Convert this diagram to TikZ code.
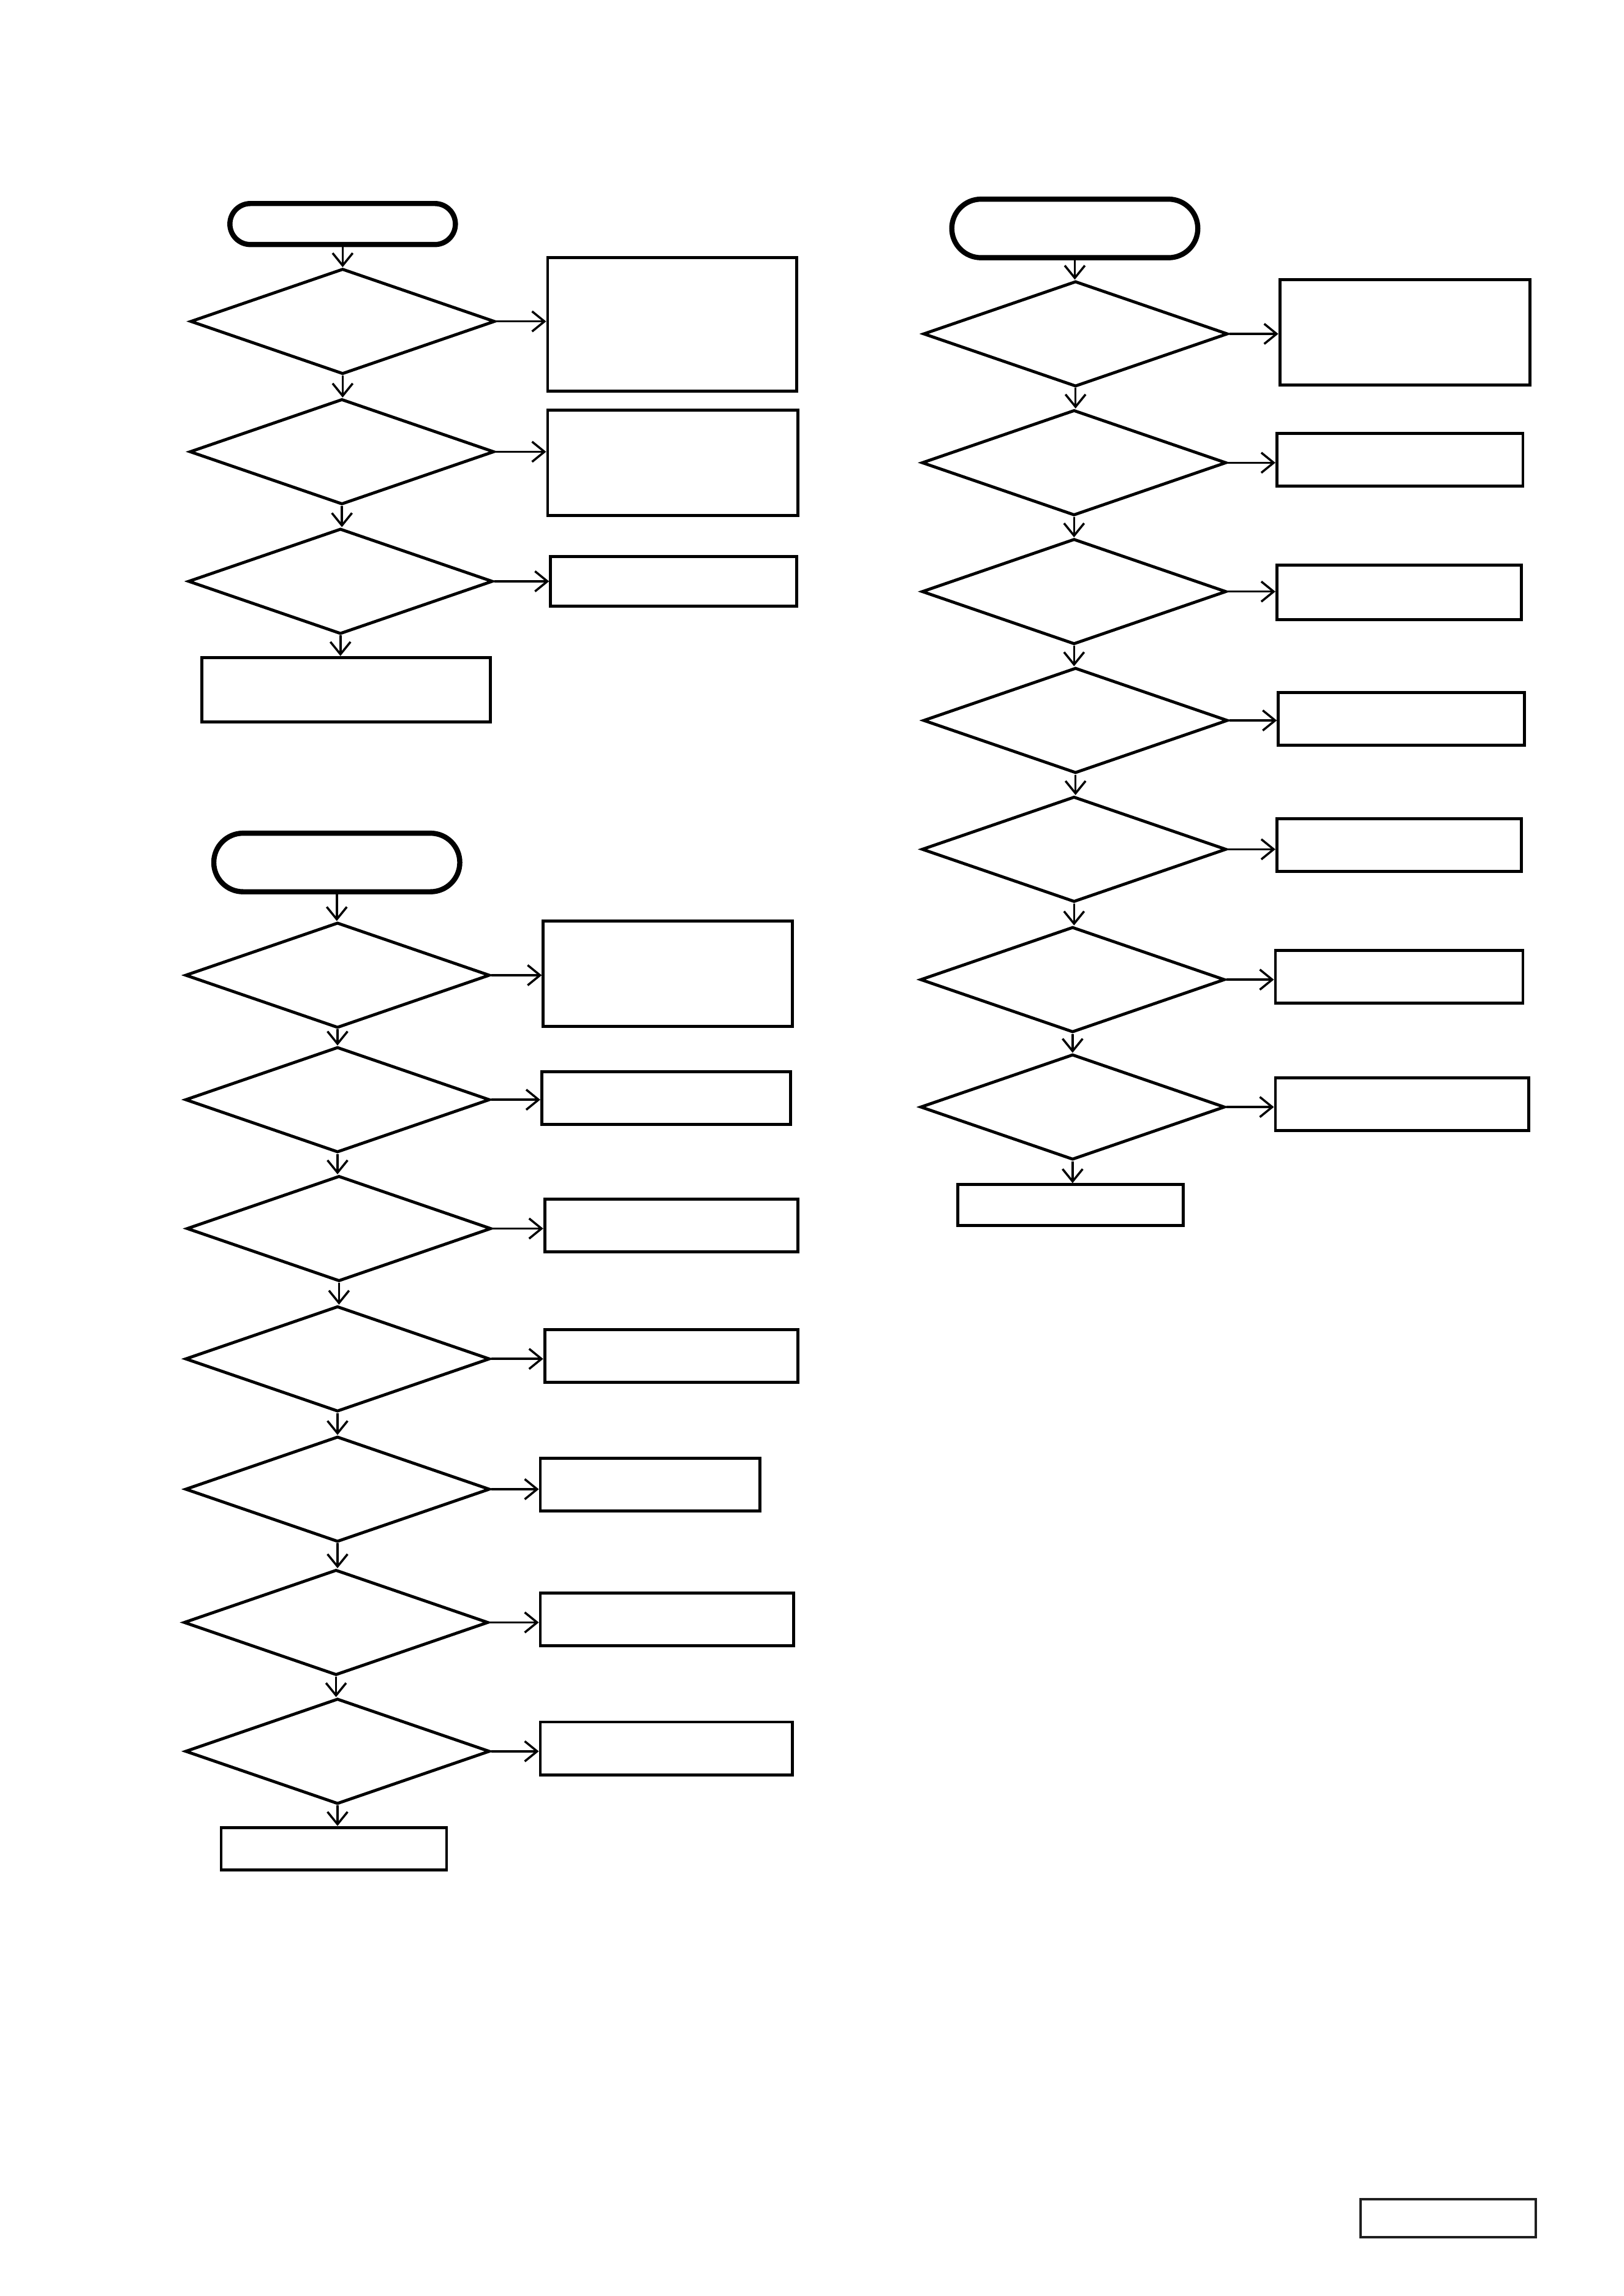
\documentclass[tikz,border=0pt]{standalone}
\usepackage{tikz}
\usetikzlibrary{shapes.geometric, shapes.misc, arrows.meta}
\newcommand{\unitpx}{0.018936cm}

\begin{document}
\begin{tikzpicture}[
		x=\unitpx, y=-\unitpx,
		terminal/.style={rounded rectangle, draw, line width=1.9pt, inner sep=0pt},
		decision/.style={diamond, draw, line width=1.1pt, inner sep=0pt, minimum width=208*\unitpx, minimum height=72*\unitpx},
		process/.style={rectangle, draw, line width=1.1pt, inner sep=0pt},
		flow/.style={-{Straight Barb[length=1.6mm, width=2.6mm]}, line width=0.8pt}
		]
		\useasboundingbox (0,0) rectangle (1109,1568);
		% Top left chart
		\node[terminal, minimum width=154*\unitpx, minimum height=28*\unitpx] (startA) at (234,153) {};
		\foreach \i/\x/\y/\bx/\by/\bw/\bh in {1/234/219.5/459/221.5/170/91, 2/233.5/308.5/459.5/316/171/72, 3/232.5/397/460/397/168/34} {
			\node[decision] (decA\i) at (\x,\y) {};
			\node[process, minimum width=\bw*\unitpx, minimum height=\bh*\unitpx] (boxA\i) at (\bx,\by) {};
			\draw[flow] (decA\i.east) -- (decA\i.east -| boxA\i.west);
		}
		\node[process, minimum width=197*\unitpx, minimum height=44*\unitpx] (endA) at (236.5,471) {};
		\draw[flow] (startA.south) -- (startA.south |- decA1.north);
		\foreach \i [remember=\i as \last (initially 1)] in {2,3} {
			\draw[flow] (decA\last.south) -- (decA\last.south |- decA\i.north);
		}
		\draw[flow] (decA3.south) -- (decA3.south |- endA.north);
		% Bottom left chart
		\node[terminal, minimum width=168*\unitpx, minimum height=40*\unitpx] (startB) at (230,589) {};
		\foreach \i/\x/\y/\bx/\by/\bw/\bh in {1/230.5/666/456/665/170/72, 2/230.5/751/455/750/170/36, 3/231.5/839/458.5/837/173/36, 4/230.5/928/458.5/926/173/36, 5/230.5/1017/444/1014/150/36, 6/229.5/1108/455.5/1106/173/36, 7/230.5/1196/455/1194/172/36} {
			\node[decision] (decB\i) at (\x,\y) {};
			\node[process, minimum width=\bw*\unitpx, minimum height=\bh*\unitpx] (boxB\i) at (\bx,\by) {};
			\draw[flow] (decB\i.east) -- (decB\i.east -| boxB\i.west);
		}
		\node[process, minimum width=154*\unitpx, minimum height=29*\unitpx] (endB) at (228,1262.5) {};
		\draw[flow] (startB.south) -- (startB.south |- decB1.north);
		\foreach \i [remember=\i as \last (initially 1)] in {2,...,7} {
			\draw[flow] (decB\last.south) -- (decB\last.south |- decB\i.north);
		}
		\draw[flow] (decB7.south) -- (decB7.south |- endB.north);
		% Right chart
		\node[terminal, minimum width=168*\unitpx, minimum height=40*\unitpx] (startC) at (734,156) {};
		\foreach \i/\x/\y/\bx/\by/\bw/\bh in {1/734.5/228/959.5/227/171/72, 2/733.5/316/956/314/168/36, 3/733.5/404/955.5/404.5/167/37, 4/734.5/492/957/491/168/36, 5/733.5/580/955.5/577/167/36, 6/732.5/669/955.5/667/169/36, 7/732.5/756/957.5/754/173/36} {
			\node[decision] (decC\i) at (\x,\y) {};
			\node[process, minimum width=\bw*\unitpx, minimum height=\bh*\unitpx] (boxC\i) at (\bx,\by) {};
			\draw[flow] (decC\i.east) -- (decC\i.east -| boxC\i.west);
		}
		\node[process, minimum width=154*\unitpx, minimum height=28*\unitpx] (endC) at (731,823) {};
		\draw[flow] (startC.south) -- (startC.south |- decC1.north);
		\foreach \i [remember=\i as \last (initially 1)] in {2,...,7} {
			\draw[flow] (decC\last.south) -- (decC\last.south |- decC\i.north);
		}
		\draw[flow] (decC7.south) -- (decC7.south |- endC.north);
		% Corner box
		\node[process, draw=black!88, line width=0.9pt, minimum width=120*\unitpx, minimum height=26*\unitpx] (corner) at (989,1515) {};
	\end{tikzpicture}
\end{document}
